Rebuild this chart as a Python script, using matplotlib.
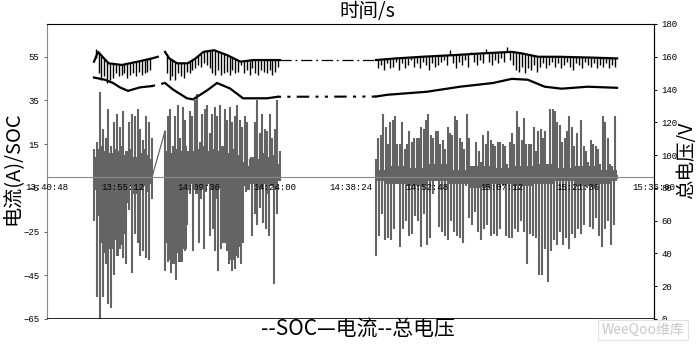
import numpy as np
import matplotlib.pyplot as plt
from matplotlib.ticker import FuncFormatter

plt.rcParams['font.family'] = ['Noto Sans CJK SC', 'DejaVu Sans']


def secs(s):
    h, m, x = s.split(':')
    return int(h) * 3600 + int(m) * 60 + int(x)


def clock(v, pos=None):
    v = int(round(v))
    return '%02d:%02d:%02d' % (v // 3600, (v // 60) % 60, v % 60)


# time axis
x_ticks = ['13:40:48', '13:55:12', '14:09:36', '14:24:00', '14:38:24',
           '14:52:48', '15:07:12', '15:21:36', '15:36:00']
y_left_ticks = [55, 35, 15, -5, -25, -45, -65]
y_right_ticks = [0, 20, 40, 60, 80, 100, 120, 140, 160, 180]

# logged stretches (start, end)
seg_times = [('13:49:43', '14:00:44'), ('14:03:12', '14:25:00'), ('14:43:14', '15:29:00')]

# current (A): charge peaks and discharge troughs, left to right
cur_pos = [
    [13, 16, 39, 22, 18, 31, 14, 25, 29, 23, 30, 12, 25, 29, 28, 31, 22, 17, 28, 25, 18],
    [21, 28, 31, 14, 28, 33, 18, 32, 26, 12, 30, 28, 35, 38, 16, 29, 31, 33, 20, 29, 32, 28,
     33, 14, 31, 26, 32, 25, 28, 33, 26, 23, 28, 25, 8, 6, 25, 35, 20, 29, 22, 21, 29, 18,
     22, 35, 12],
    [8, 18, 19, 29, 23, 15, 25, 26, 28, 15, 15, 25, 13, 15, 21, 16, 18, 18, 18, 23, 22, 26,
     29, 19, 18, 21, 21, 15, 17, 13, 23, 20, 19, 28, 26, 18, 16, 13, 29, 18, 5, 1, 16, 12,
     7, 19, 15, 21, 17, 15, 14, 16,
     16, 15, 14, 6, 16, 20, 15, 30, 23, 17, 27, 15, 15, 15, 23, 12, 21, 22, 18, 21, 5, 31,
     31, 30, 25, 24, 16, 18, 21, 28, 23, 14, 20, 5, 26, 14, 12, 7, 17, 15, 14, 13, 6, 28,
     25, 18, 6, 5, 28, 1],
]
cur_neg = [
    [-20, -55, -65, -55, -40, -58, -60, -45, -28, -33, -37, -40, -15, -44, -26, -30, -36,
     -34, -37, -38, -10],
    [-43, -39, -44, -37, -47, -39, -37, -34, -22, -8, -34, -5, -30, -10, -33, -4, -27, -24,
     -34, -43, -33, -27, -34, -40, -43, -42, -37, -40, -30, -7, -2, -27, -17, -22, -14, -21,
     -24, -27, -3, -49, -17, -2],
    [-36, -27, -17, -29, -28, -29, -24, -1, -32, -24, -20, -27, -26, -18, -20, -32, -17,
     -31, -28, -8, -2, -23, -25, -27, -29, -20, -25, -27, -28, -30, -4, -19, -22, -16, -25,
     -29, -24, -22, -27,
     -26, -27, -24, -4, -27, -28, -28, -24, -25, -20, -25, -40, -26, -27, -28, -45, -45,
     -33, -48, -34, -29, -31, -25, -31, -28, -33, -26, -28, -24, -26, -22, -5, -23, -24,
     -19, -27, -32, -24, -20, -31, -22, -1],
]
# solid band of the current trace near zero (time, upper, lower)
band_times = [
    ['13:49:43', '13:50:20', '13:50:58', '13:51:37', '13:52:16', '13:52:55', '13:53:34',
     '13:54:13', '13:54:52', '13:55:31', '13:56:10', '13:56:49', '13:57:28', '13:58:07',
     '13:58:46', '13:59:25', '14:00:04', '14:00:44'],
    ['14:03:12', '14:03:57', '14:04:42', '14:05:27', '14:06:12', '14:06:57', '14:07:42',
     '14:08:27', '14:09:12', '14:09:57', '14:10:42', '14:11:27', '14:12:12', '14:12:57',
     '14:13:42', '14:14:27', '14:15:12', '14:15:57', '14:16:42', '14:17:27', '14:18:12',
     '14:18:57', '14:19:42', '14:20:27', '14:21:12', '14:21:57', '14:22:42', '14:23:27',
     '14:24:12', '14:25:00'],
    ['14:43:14', '14:47:00', '14:51:00', '14:55:00', '14:59:00', '15:03:00', '15:07:00',
     '15:11:00', '15:15:00', '15:19:00', '15:23:00', '15:27:00', '15:29:00'],
]
band_hi = [
    [9, 13, 14, 12, 14, 11, 13, 12, 14, 10, 12, 13, 9, 12, 11, 13, 10, 8],
    [12, 14, 11, 13, 12, 14, 10, 12, 13, 11, 14, 12, 13, 10, 12, 14, 11, 13, 12, 10, 7, 5,
     9, 10, 8, 11, 9, 10, 8, 6],
    [3, 5, 4, 6, 3, 5, 4, 5, 6, 4, 5, 3, 3],
]
band_lo = [
    [-6, -18, -30, -35, -27, -33, -29, -36, -31, -26, -12, -4, -8, -3, -6, -4, -7, -3],
    [-30, -38, -40, -35, -39, -33, -6, -3, -8, -4, -7, -3, -6, -10, -5, -30, -34, -38, -36,
     -32, -4, -6, -3, -7, -5, -3, -8, -4, -6, -2],
    [-2, -3, -4, -2, -3, -5, -3, -4, -3, -2, -4, -3, -2],
]

# total voltage (V): slow level plus short dips / jumps
volt_base_times = [
    ['13:49:43', '13:50:30', '13:51:20', '13:52:30', '13:55:00', '13:58:00', '14:00:44',
     '14:01:50'],
    ['14:03:12', '14:04:00', '14:05:30', '14:07:30', '14:09:00', '14:10:30', '14:12:30',
     '14:15:00', '14:17:30', '14:20:00', '14:22:30', '14:25:00'],
    ['14:43:14', '14:47:00', '14:52:00', '14:58:00', '15:03:00', '15:09:00', '15:11:00',
     '15:14:00', '15:18:00', '15:24:00', '15:29:00'],
]
volt_base = [
    [157, 163, 160, 156, 155, 157, 159, 160],
    [163, 159, 156, 156, 159, 163, 164, 161, 157, 158, 158, 158],
    [158, 159, 160, 161, 162, 163, 162, 160, 160, 159.5, 159],
]
volt_spike = [
    [165, 150, 146, 148, 144, 146, 147, 150, 148, 149, 150, 147, 149, 150, 148, 151, 149,
     150, 151, 152],
    [150, 146, 148, 146, 150, 148, 147, 151, 150, 152, 153, 155, 154, 156, 155, 153, 150,
     149, 152, 149, 150, 151, 149, 152, 150, 151, 155, 150, 152, 149, 153, 150, 149, 152,
     151, 150, 152, 149, 151, 154],
    [153, 155, 152, 156, 153, 154, 157, 152, 156, 153, 155, 158, 154, 156, 153, 157, 155,
     152, 156, 154, 155, 157, 158, 155, 164, 156, 153, 157, 155, 158, 154, 163, 157, 155,
     158, 156, 165, 157, 155, 158, 156, 159, 157, 166, 158, 155, 152, 151, 154, 150, 153,
     152, 155, 151, 154, 156, 153, 155, 157, 154, 156, 153, 155, 157, 154, 152, 156, 155,
     153, 157, 155, 154, 156, 153, 155, 154, 156, 153, 155, 154],
]

# SOC
soc_times = ['13:49:43', '13:51:48', '13:53:20', '13:54:39', '13:56:10', '13:58:27',
             '14:00:44', '14:03:12', '14:04:43', '14:07:22', '14:08:31', '14:11:10',
             '14:13:04', '14:15:32', '14:18:00', '14:22:33', '14:24:38', '14:43:14',
             '14:45:20', '14:52:55', '14:59:11', '15:05:27', '15:09:00', '15:12:02',
             '15:15:16', '15:18:29', '15:23:25', '15:28:59']
soc_vals = [45.5, 44.5, 43, 41, 39.4, 41, 41.6, 43, 40, 36, 35.5, 39.6, 43, 40.5, 36, 36,
            36.7, 36.8, 37.6, 39, 41.3, 43, 44.9, 44.5, 41.3, 40.4, 41.3, 40.8]

fig = plt.figure(figsize=(7, 3.45), dpi=100)
ax = fig.add_axes([47 / 700, 1 - 319 / 345, 607 / 700, 295 / 345])
ax2 = ax.twinx()

# current trace, drawn as dense spikes about zero
grey = '#646464'
for (a, b), p, n in zip(seg_times, cur_pos, cur_neg):
    t0, t1 = secs(a), secs(b)
    tp = np.linspace(t0, t1, len(p))
    tn = np.linspace(t0, t1, len(n))
    ax.vlines(tp, 0, p, color=grey, lw=1.5, zorder=2)
    ax.vlines(tn, n, 0, color=grey, lw=1.5, zorder=2)
for bt, hi, lo in zip(band_times, band_hi, band_lo):
    bt = [secs(s) for s in bt]
    ax.fill_between(bt, lo, hi, color=grey, lw=0, step='mid', zorder=2)
ax.plot([secs(seg_times[0][1]), secs(seg_times[1][0])], [0, cur_pos[1][0]], color=grey,
        lw=0.9, zorder=2)

# SOC
st = np.array([secs(s) for s in soc_times])
sv = np.array(soc_vals)
for a, b in seg_times:
    m = (st >= secs(a)) & (st <= secs(b))
    ax.plot(st[m], sv[m], color='black', lw=1.6, zorder=3)
for (a0, b0), (a1, b1) in zip(seg_times[:-1], seg_times[1:]):
    i0 = np.where(st <= secs(b0))[0][-1]
    i1 = np.where(st >= secs(a1))[0][0]
    ax.plot([st[i0], st[i1]], [sv[i0], sv[i1]], color='black', lw=1.5,
            ls=(0, (1.5, 3, 1.5, 3, 6, 3)), zorder=3)

# voltage
last = None
for (a, b), bt, bv, sp in zip(seg_times, volt_base_times, volt_base, volt_spike):
    bt = np.array([secs(s) for s in bt])
    ax2.plot(bt, bv, color='black', lw=1.6)
    ts = np.linspace(secs(a) + 20, secs(b) - 20, len(sp))
    ax2.vlines(ts, np.interp(ts, bt, bv), sp, color='black', lw=1.0)
    if last is not None and bt[0] - last[0] > 600:
        ax2.plot([last[0], bt[0]], [last[1], bv[0]], color='black', lw=0.9,
                 ls=(0, (9, 3, 1.5, 3)))
    last = (bt[-1], bv[-1])

# axes
ax.set_axisbelow(False)
ax.set_xlim(secs(x_ticks[0]), secs(x_ticks[-1]))
ax.set_ylim(-65, 70)
ax2.set_ylim(0, 180)
ax.set_xticks([secs(s) for s in x_ticks])
ax.xaxis.set_major_formatter(FuncFormatter(clock))
ax.set_yticks(y_left_ticks)
ax2.set_yticks(y_right_ticks)

ax.spines['bottom'].set_position(('data', 0))
ax.spines['bottom'].set_color('#8a8a8a')
ax.spines['left'].set_color('#8a8a8a')
for sp in ['top', 'right']:
    ax.spines[sp].set_color('black')
ax.axhline(-65, color='black', lw=1.2, zorder=4)
for sp in ax2.spines.values():
    sp.set_visible(False)
ax2.spines['right'].set_visible(True)
ax2.spines['right'].set_color('black')

ax.tick_params(axis='x', length=0, pad=4, labelsize=6.5, labelfontfamily='Liberation Mono')
ax.tick_params(axis='y', length=2.5, width=0.7, pad=3, labelsize=6.5,
               labelfontfamily='Liberation Mono', color='#666666')
ax2.tick_params(axis='y', length=2.5, width=0.7, pad=3, labelsize=6.5,
                labelfontfamily='Liberation Mono')

fig.text(13 / 700, 1 - 168 / 345, '电流(A)/SOC', rotation=90, ha='center', va='center',
         fontsize=14.5)
fig.text(687 / 700, 1 - 160 / 345, '总电压/V', rotation=90, ha='center', va='center',
         fontsize=14)
fig.text(367 / 700, 1 - 12 / 345, '时间/s', ha='center', va='center', fontsize=14)
fig.text(358 / 700, 1 - 330 / 345, '--SOC—电流--总电压', ha='center', va='center',
         fontsize=15)

# site watermark
fig.text(643 / 700, 1 - 330 / 345, 'WeeQoo维库', ha='center', va='center', fontsize=10,
         color='#c8c8c8', style='italic',
         bbox=dict(boxstyle='square,pad=0.25', fc='white', ec='#e2e2e2', lw=0.8))

fig.savefig('out.png', dpi=100)
